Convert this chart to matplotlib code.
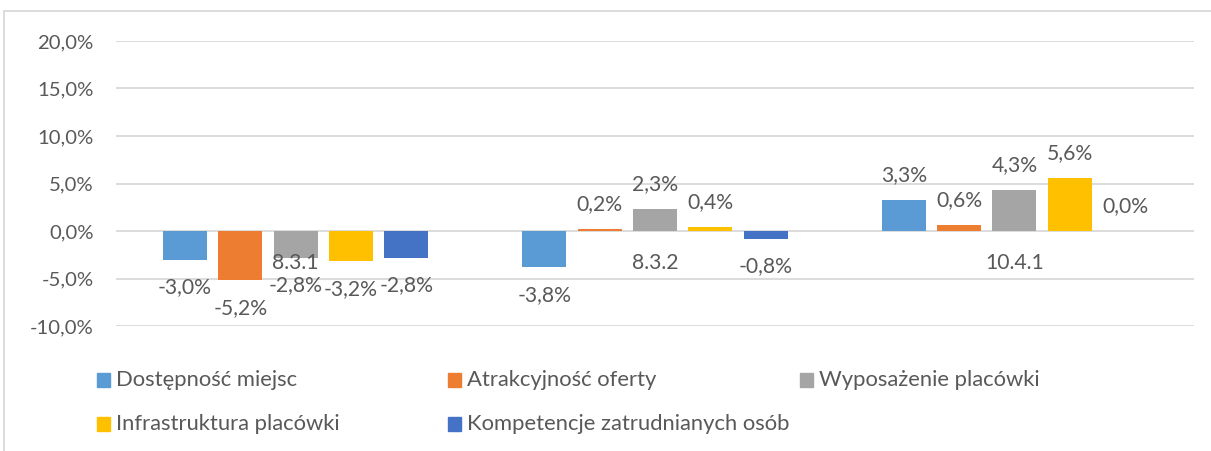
import matplotlib
matplotlib.use("Agg")
import matplotlib.pyplot as plt
from matplotlib.patches import Rectangle

categories = ["8.3.1", "8.3.2", "10.4.1"]
series_names = ["Dostępność miejsc", "Atrakcyjność oferty", "Wyposażenie placówki",
                "Infrastruktura placówki", "Kompetencje zatrudnianych osób"]
values = [
    [-3.0, -3.8, 3.3],
    [-5.2, 0.2, 0.6],
    [-2.8, 2.3, 4.3],
    [-3.2, 0.4, 5.6],
    [-2.8, -0.8, 0.0],
]
colors = ["#5B9BD5", "#ED7D31", "#A5A5A5", "#FFC000", "#4472C4"]
yticks = [-10, -5, 0, 5, 10, 15, 20]

TXT = "#595959"
FONT = "Lato"
plt.rcParams['font.family'] = [FONT, 'DejaVu Sans']

W, H = 1211, 451
fig = plt.figure(figsize=(W / 100, H / 100), dpi=100)

# outer frame
fig.patches.append(Rectangle((4 / W, -0.1), 1.2, (H - 11) / H + 0.1, transform=fig.transFigure,
                             fill=False, edgecolor="#D9D9D9", linewidth=1.3))

ax = fig.add_axes([116 / W, (H - 326) / H, 1078 / W, 285 / H])
ax.set_xlim(-0.5, len(categories) - 0.5)
ax.set_ylim(-10, 20)

step = 0.154
bw = 0.1225
for j, (name, vals, c) in enumerate(zip(series_names, values, colors)):
    xs = [i + (j - 2) * step for i in range(len(categories))]
    ax.bar(xs, vals, width=bw, color=c, zorder=3)
    for x, v in zip(xs, vals):
        off = 18 if v >= 0 else -20
        ax.annotate(f"{v:.1f}%".replace(".", ","), xy=(x, v), xytext=(0, off),
                    textcoords="offset points", ha="center", va="center",
                    fontsize=15.2, color=TXT, zorder=5)

for i, cat in enumerate(categories):
    ax.annotate(cat, xy=(i, 0), xytext=(0, -23), textcoords="offset points",
                ha="center", va="center", fontsize=15.2, color=TXT, zorder=4)

ax.set_yticks(yticks)
ax.set_yticklabels([f"{t:.1f}%".replace(".", ",") for t in yticks], fontsize=14.6, color=TXT)
ax.tick_params(axis="y", length=0, pad=16)
ax.set_xticks([])
for s in ax.spines.values():
    s.set_visible(False)
ax.grid(axis="y", color="#D9D9D9", linewidth=1.3, zorder=0)
ax.set_axisbelow(True)

# legend (Excel-style equal columns)
leg_pos = [(97, 380), (448, 380), (800, 380), (97, 424), (448, 424)]
for (px, py), name, c in zip(leg_pos, series_names, colors):
    fig.patches.append(Rectangle((px / W, (H - py - 7) / H), 13 / W, 14 / H,
                                 transform=fig.transFigure, color=c))
    fig.text((px + 19) / W, (H - py) / H, name, fontsize=15.8, color=TXT,
             ha="left", va="center")

fig.savefig("out.png", dpi=100)
